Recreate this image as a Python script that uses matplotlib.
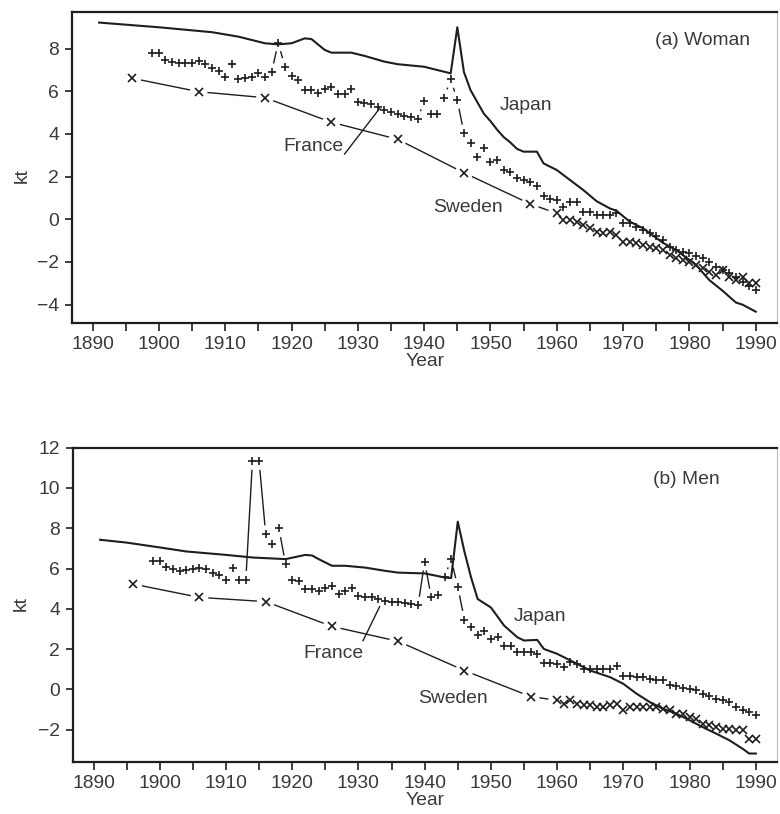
import numpy as np
import matplotlib
matplotlib.use("Agg")
import matplotlib.pyplot as plt
from matplotlib.ticker import FixedLocator, FuncFormatter

plt.rcParams['font.family'] = ['Liberation Sans', 'DejaVu Sans']

INK = '#1e1e1e'
TXT = '#3a3a3a'

###
# DATA
###

# (a) Woman
jp_w_years = [1891, 1900, 1908, 1912, 1916, 1918, 1920, 1922, 1923, 1925, 1926, 1929, 1931,
              1934, 1936, 1940, 1944, 1945, 1946, 1947, 1948, 1949, 1950, 1951, 1952, 1953,
              1954, 1955, 1957, 1958, 1960, 1962, 1964, 1966, 1968, 1969, 1971, 1973, 1976,
              1978, 1981, 1983, 1985, 1987, 1988, 1990]
jp_w = [9.22, 9.0, 8.77, 8.56, 8.25, 8.2, 8.25, 8.48, 8.45, 7.94, 7.81, 7.81, 7.66,
        7.39, 7.27, 7.15, 6.84, 9.0, 6.9, 6.05, 5.5, 4.95, 4.6, 4.2, 3.85, 3.6,
        3.3, 3.17, 3.17, 2.62, 2.31, 1.84, 1.37, 0.85, 0.51, 0.4, -0.11, -0.42, -1.1,
        -1.44, -2.14, -2.85, -3.35, -3.9, -4.0, -4.33]

fr_w_start = 1899
fr_w = [7.78, 7.78, 7.47, 7.35, 7.32, 7.32, 7.32, 7.4, 7.28, 7.08,      # 1899-1908
        6.93, 6.65, 7.27, 6.57, 6.6, 6.65, 6.87, 6.65, 6.9, 8.28,       # 1909-1918
        7.15, 6.73, 6.55, 6.08, 6.05, 5.92, 6.1, 6.2, 5.89, 5.86,       # 1919-1928
        6.12, 5.5, 5.47, 5.4, 5.25, 5.1, 5.03, 4.92, 4.83, 4.78,        # 1929-1938
        4.68, 5.54, 4.94, 4.94, 5.7, 6.56, 5.59, 4.03, 3.56, 2.91,      # 1939-1948
        3.33, 2.7, 2.78, 2.31, 2.23, 1.95, 1.85, 1.75, 1.55, 1.1,       # 1949-1958
        0.95, 0.92, 0.6, 0.83, 0.83, 0.36, 0.36, 0.2, 0.2, 0.2,         # 1959-1968
        0.28, -0.19, -0.19, -0.34, -0.5, -0.66, -0.8, -0.97, -1.28, -1.44,  # 1969-1978
        -1.52, -1.6, -1.72, -1.83, -1.99, -2.22, -2.38, -2.53, -2.69, -2.92,  # 1979-1988
        -3.12, -3.31]                                                   # 1989-1990

sw_w_years = [1896, 1906, 1916, 1926, 1936, 1946, 1956] + list(range(1960, 1991))
sw_w = [6.61, 5.98, 5.7, 4.55, 3.75, 2.18, 0.72,
        0.28, -0.03, -0.03, -0.11, -0.27, -0.42, -0.58, -0.62, -0.58, -0.74,
        -1.05, -1.05, -1.13, -1.2, -1.28, -1.36, -1.44, -1.67, -1.83, -1.91,
        -1.99, -2.14, -2.3, -2.46, -2.61, -2.38, -2.69, -2.84, -2.69, -3.0, -3.0]

# (b) Men
jp_m_years = [1891, 1895, 1900, 1904, 1910, 1914, 1919, 1922, 1923, 1924, 1926, 1928, 1931,
              1934, 1936, 1940, 1943, 1944, 1945, 1946, 1947, 1948, 1950, 1952, 1954, 1955,
              1957, 1958, 1960, 1962, 1965, 1968, 1970, 1972, 1974, 1976, 1978, 1980, 1982,
              1984, 1986, 1988, 1989, 1990]
jp_m = [7.43, 7.29, 7.05, 6.85, 6.68, 6.55, 6.47, 6.68, 6.65, 6.47, 6.14, 6.14, 6.05,
        5.89, 5.8, 5.76, 5.56, 5.53, 8.33, 6.85, 5.57, 4.49, 4.07, 3.17, 2.59, 2.43,
        2.46, 2.01, 1.77, 1.44, 0.94, 0.61, 0.28, -0.21, -0.63, -0.96, -1.2, -1.53, -1.87,
        -2.19, -2.52, -2.94, -3.18, -3.18]

fr_m_start = 1899
fr_m = [6.39, 6.39, 6.1, 6.0, 5.89, 5.93, 5.97, 6.05, 5.97, 5.76,      # 1899-1908
        5.7, 5.45, 6.02, 5.45, 5.45, 11.34, 11.34, 7.71, 7.24, 7.99,    # 1909-1918
        6.22, 5.45, 5.4, 4.98, 4.98, 4.9, 5.06, 5.15, 4.74, 4.9,        # 1919-1928
        5.06, 4.65, 4.6, 4.57, 4.49, 4.41, 4.36, 4.33, 4.3, 4.25,       # 1929-1938
        4.17, 6.34, 4.57, 4.69, 5.56, 6.47, 5.1, 3.47, 3.08, 2.71,      # 1939-1948
        2.92, 2.51, 2.59, 2.18, 2.18, 1.85, 1.85, 1.85, 1.77, 1.3,      # 1949-1958
        1.3, 1.25, 1.1, 1.35, 1.27, 1.02, 1.02, 1.02, 1.02, 1.02,       # 1959-1968
        1.15, 0.69, 0.69, 0.61, 0.61, 0.53, 0.45, 0.45, 0.2, 0.15,      # 1969-1978
        0.08, 0.03, -0.05, -0.21, -0.3, -0.46, -0.51, -0.63, -0.87, -1.04,  # 1979-1988
        -1.12, -1.29]                                                   # 1989-1990

sw_m_years = [1896, 1906, 1916, 1926, 1936, 1946, 1956] + list(range(1960, 1991))
sw_m = [5.23, 4.57, 4.36, 3.13, 2.39, 0.94, -0.35,
        -0.54, -0.71, -0.54, -0.71, -0.79, -0.79, -0.87, -0.87, -0.79, -0.71,
        -1.04, -0.87, -0.87, -0.87, -0.87, -0.87, -0.96, -1.04, -1.2, -1.2,
        -1.37, -1.45, -1.7, -1.78, -1.87, -1.95, -1.95, -2.03, -2.03, -2.44, -2.44]


def plot_b(ax, x, y, marker, gap=9.5):
    """R style type='b': points, joined by lines that stop short of each point."""
    pts = ax.transData.transform(np.column_stack([x, y]))
    inv = ax.transData.inverted()
    for p0, p1 in zip(pts[:-1], pts[1:]):
        d = p1 - p0
        L = np.hypot(d[0], d[1])
        if L <= 2 * gap:
            continue
        u = d / L
        a = inv.transform(p0 + u * gap)
        b = inv.transform(p1 - u * gap)
        ax.plot([a[0], b[0]], [a[1], b[1]], color=INK, lw=1.0, zorder=2)
    ax.plot(x, y, ls='none', marker=marker, ms=5.2, mew=1.2, color=INK, zorder=3)


def style_axes(ax, ylim, yticks):
    ax.set_xlim(1886.95, 1993.2)
    ax.set_ylim(*ylim)
    ax.xaxis.set_major_locator(FixedLocator(np.arange(1890, 1991, 5)))
    ax.xaxis.set_major_formatter(FuncFormatter(lambda v, p: f"{int(v)}" if int(v) % 10 == 0 else ""))
    ax.set_yticks(yticks)
    ax.tick_params(axis='x', direction='out', length=6, width=1.2, pad=3.5,
                   labelsize=13.9, colors=INK, labelcolor=TXT)
    ax.tick_params(axis='y', direction='out', length=5, width=1.2, pad=4.5,
                   labelsize=13.9, colors=INK, labelcolor=TXT)
    for side in ['left', 'bottom', 'top']:
        ax.spines[side].set_linewidth(1.6)
        ax.spines[side].set_color(INK)
    ax.spines['right'].set_linewidth(0.8)
    ax.spines['right'].set_color('#bbbbbb')
    ax.set_xlabel("Year", fontsize=13.9, color=TXT, labelpad=0)


def panel(ax, jp_years, jp, fr_start, fr, sw_years, sw):
    ax.plot(jp_years, jp, color=INK, lw=1.5, zorder=2.5)
    plot_b(ax, np.arange(fr_start, fr_start + len(fr)), np.array(fr), '+')
    plot_b(ax, np.array(sw_years), np.array(sw), 'x')


W, H = 780, 814
fig = plt.figure(figsize=(W / 100, H / 100), dpi=100)
fig.patch.set_facecolor('white')

ax1 = fig.add_axes([72.3 / W, 1 - 323 / H, 704.7 / W, 311.3 / H])
ax2 = fig.add_axes([73.3 / W, 1 - 762 / H, 703.7 / W, 314.3 / H])

style_axes(ax1, (-4.86, 9.73), np.arange(-4, 9, 2))
style_axes(ax2, (-3.6, 12.0), np.arange(-2, 13, 2))

panel(ax1, jp_w_years, jp_w, fr_w_start, fr_w, sw_w_years, sw_w)
panel(ax2, jp_m_years, jp_m, fr_m_start, fr_m, sw_m_years, sw_m)

# labels in the panels
kw = dict(fontsize=13.9, color=TXT, ha='left', va='baseline')
ax1.text(1951.4, 5.1, "Japan", **kw)
ax1.text(1941.35, 0.36, "Sweden", **kw)
ax1.text(1918.7, 3.2, "France", **kw)
ax1.text(1974.8, 8.15, "(a) Woman", **kw)
ax1.plot([1928.0, 1933.3], [3.06, 5.2], color=INK, lw=1.0)

ax2.text(1953.4, 3.42, "Japan", **kw)
ax2.text(1939.0, -0.69, "Sweden", **kw)
ax2.text(1921.75, 1.54, "France", **kw)
ax2.text(1974.5, 10.2, "(b) Men", **kw)
ax2.plot([1930.7, 1933.2], [2.42, 4.11], color=INK, lw=1.0)

fig.text(22 / W, 1 - 176 / H, "kt", rotation=90, ha='center', va='center', fontsize=13.9, color=TXT)
fig.text(21 / W, 1 - 604 / H, "kt", rotation=90, ha='center', va='center', fontsize=13.9, color=TXT)

fig.savefig("out.png", dpi=100, facecolor='white')
